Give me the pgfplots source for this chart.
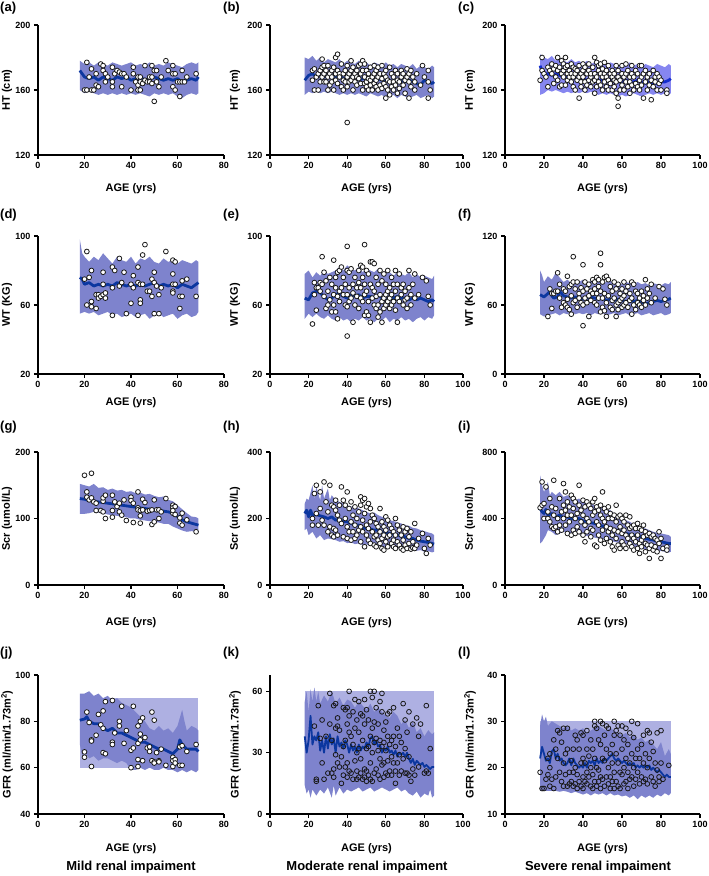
\documentclass[border=0pt]{standalone}
\usepackage{fontspec}
\setmainfont{Liberation Sans}
\usepackage{pgfplots}
\pgfplotsset{compat=1.18}
\definecolor{bandc}{RGB}{126,131,205}
\definecolor{bandv}{RGB}{134,134,240}
\definecolor{rectc}{RGB}{174,176,226}
\definecolor{medc}{RGB}{12,55,160}
\definecolor{medv}{RGB}{20,45,205}
\pgfplotsset{
 panel/.style={scale only axis, anchor=south west, axis lines*=left,
  axis line style={line width=1.3pt, black},
  tick align=outside, major tick length=4pt, tick style={line width=1.3pt, black},
  /pgf/number format/assume math mode=true,
  tick label style={font=\bfseries\fontsize{9}{10}\selectfont},
  label style={font=\bfseries\fontsize{11}{13}\selectfont},
  xlabel={AGE (yrs)},
  xlabel style={at={(axis description cs:0.5,0)}, anchor=center},
  ylabel style={at={(axis description cs:0,0.5)}, anchor=center},
  xmin=0, minor tick num=0},
 c1/.style={panel, xmax=80, xtick={0,20,40,60,80}, width=186pt, ylabel style={yshift=31pt}},
 c2/.style={panel, xmax=100, xtick={0,20,40,60,80,100}, width=193pt, ylabel style={yshift=35pt}},
 c3/.style={panel, xmax=100, xtick={0,20,40,60,80,100}, width=195pt, ylabel style={yshift=35pt}},
 r1/.style={height=130pt, xlabel style={yshift=-34pt}},
 r2/.style={height=138pt, xlabel style={yshift=-29pt}},
 r3/.style={height=133pt, xlabel style={yshift=-38pt}},
 r4/.style={height=139pt, xlabel style={yshift=-35pt}},
 pts/.style={only marks, mark=*, mark size=2.4pt, mark options={fill=white, draw=black!90, line width=0.8pt}},
 ptso/.style={only marks, mark=o, mark size=2.4pt, mark options={draw=black!90, line width=0.8pt}},
 med/.style={color=medc, line width=2.8pt, line join=round},
}
\begin{document}
\begin{tikzpicture}
\useasboundingbox (0pt,0pt) rectangle (709pt,876pt);
% ---------------- (a)
\begin{axis}[c1, r1, at={(38pt,721pt)}, ymin=120, ymax=200, ytick={120,160,200}, ylabel={HT (cm)}]
\addplot[fill=bandc, draw=none] coordinates {(18,178)(20,176)(22,177)(24,175)(26,177)(28,176)(30,175)(32,177)(34,176)(36,175)(38,176)(40,177)(42,175)(44,176)(46,175)(48,177)(50,175)(52,176)(54,175)(56,177)(58,176)(60,175)(62,174)(64,176)(66,177)(68,176)(69,177)(69,158)(68,157)(66,158)(64,157)(62,155)(60,156)(58,158)(56,157)(54,158)(52,157)(50,158)(48,156)(46,157)(44,158)(42,157)(40,158)(38,157)(36,158)(34,157)(32,158)(30,157)(28,158)(26,157)(24,158)(22,159)(20,158)(18,160)};
\addplot[med] coordinates {(18,172)(19,170)(20,168)(22,167)(24,168)(26,166)(28,168)(30,167)(32,166)(34,168)(36,167)(38,168)(40,166)(42,167)(44,168)(46,166)(48,167)(50,168)(52,167)(54,166)(56,167)(58,166)(60,167)(62,165)(64,166)(66,167)(68,166)(69,168)};
\addplot[pts] coordinates {(20,160)(21,160)(21,177)(22,168)(23,173)(23,160)(24,160)(25,163)(25,170)(26,162)(27,176)(28,175)(28,172)(29,170)(29,165)(30,168)(32,165)(32,162)(32,174)(33,170)(34,172)(35,171)(36,170)(36,162)(37,170)(38,168)(40,160)(41,174)(41,170)(42,165)(43,168)(43,163)(43,160)(44,160)(44,168)(44,165)(45,164)(46,175)(46,166)(47,165)(48,165)(48,168)(49,175)(49,168)(49,164)(50,172)(50,153)(51,165)(51,172)(52,162)(53,168)(55,178)(56,172)(58,175)(58,170)(58,162)(59,170)(59,160)(60,165)(61,156)(61,165)(62,172)(62,165)(63,165)(64,168)(68,170)};
\end{axis}
% ---------------- (b)
\begin{axis}[c2, r1, at={(270pt,721pt)}, ymin=120, ymax=200, ytick={120,160,200}, ylabel={HT (cm)}]
\addplot[fill=bandc, draw=none] coordinates {(18,180)(20,179)(22,181)(24,178)(26,180)(28,177)(30,179)(32,178)(34,177)(36,179)(38,176)(40,178)(42,177)(44,176)(46,178)(48,176)(50,177)(52,175)(54,177)(56,176)(58,175)(60,177)(62,175)(64,176)(66,174)(68,176)(70,175)(72,174)(74,176)(76,173)(78,175)(80,174)(82,173)(84,175)(85,174)(85,156)(84,155)(82,157)(80,156)(78,155)(76,157)(74,156)(72,155)(70,156)(68,157)(66,155)(64,157)(62,156)(60,155)(58,157)(56,156)(54,157)(52,158)(50,156)(48,157)(46,158)(44,157)(42,158)(40,157)(38,158)(36,157)(34,158)(32,159)(30,158)(28,159)(26,158)(24,159)(22,158)(20,159)(18,157)};
\addplot[med] coordinates {(18,166)(20,169)(22,170)(24,168)(26,169)(28,168)(30,169)(32,168)(34,168)(36,169)(38,167)(40,168)(42,167)(44,168)(46,166)(48,167)(50,167)(52,166)(54,166)(56,167)(58,166)(60,166)(62,165)(64,166)(66,165)(68,166)(70,165)(72,166)(74,165)(76,164)(78,163)(80,166)(82,165)(84,164)(85,165)};
\addplot[pts] coordinates {(22,172)(22,166)(23,160)(23,173)(24,168)(25,160)(25,170)(26,165)(26,172)(27,179)(27,174)(27,168)(28,165)(28,170)(28,175)(29,172)(29,165)(30,168)(30,160)(30,175)(31,163)(31,170)(32,165)(32,172)(32,168)(33,174)(33,160)(34,180)(34,166)(34,170)(35,182)(35,172)(35,164)(36,170)(36,168)(37,176)(37,162)(38,160)(38,170)(38,166)(39,172)(39,165)(40,140)(40,175)(40,168)(40,162)(41,170)(41,165)(42,178)(42,172)(42,166)(43,168)(43,160)(43,174)(44,165)(44,170)(45,172)(45,163)(45,168)(46,175)(46,167)(47,176)(47,170)(47,164)(48,178)(48,172)(48,160)(49,168)(49,164)(49,176)(50,172)(50,165)(50,162)(51,170)(51,160)(51,167)(52,174)(52,166)(52,163)(53,168)(53,160)(54,175)(54,170)(54,164)(55,172)(55,166)(55,162)(56,174)(56,168)(56,160)(57,170)(57,163)(58,175)(58,167)(58,161)(59,170)(59,164)(60,155)(60,168)(60,172)(60,162)(61,166)(61,160)(62,174)(62,165)(62,157)(63,170)(63,162)(64,168)(64,165)(64,160)(65,172)(65,163)(66,170)(66,166)(66,158)(67,165)(67,161)(68,172)(68,168)(69,170)(69,163)(70,166)(70,158)(71,173)(71,168)(72,155)(72,170)(72,165)(73,172)(73,162)(74,168)(75,165)(75,160)(76,170)(78,163)(79,175)(80,168)(82,172)(82,165)(82,155)(83,160)};
\end{axis}
% ---------------- (c)
\begin{axis}[c3, r1, at={(505pt,721pt)}, ymin=120, ymax=200, ytick={120,160,200}, ylabel={HT (cm)}]
\addplot[fill=bandv, draw=none] coordinates {(18,182)(20,180)(22,179)(24,181)(26,178)(28,180)(30,178)(32,177)(34,179)(36,177)(38,178)(40,176)(42,178)(44,176)(46,177)(48,176)(50,177)(52,175)(54,177)(56,176)(58,175)(60,176)(62,175)(64,177)(66,175)(68,176)(70,174)(72,176)(74,175)(76,174)(78,176)(80,175)(82,174)(84,176)(85,175)(85,158)(84,157)(82,158)(80,157)(78,158)(76,157)(74,158)(72,157)(70,156)(68,157)(66,158)(64,157)(62,156)(60,157)(58,156)(56,157)(54,158)(52,157)(50,158)(48,157)(46,158)(44,159)(42,158)(40,159)(38,158)(36,159)(34,158)(32,159)(30,158)(28,159)(26,160)(24,159)(22,160)(20,158)(18,157)};
\addplot[med, color=medv] coordinates {(18,175)(19,171)(20,170)(22,170)(24,169)(26,170)(28,169)(30,168)(32,168)(34,168)(36,167)(38,167)(40,167)(42,166)(44,167)(46,166)(48,166)(50,166)(52,166)(54,166)(56,165)(58,165)(60,165)(62,166)(64,165)(66,165)(68,166)(70,165)(72,164)(74,165)(76,164)(78,164)(80,165)(82,165)(84,166)(85,167)};
\addplot[pts] coordinates {(18,166)(19,180)(19,172)(20,170)(21,168)(22,162)(22,174)(23,172)(24,176)(24,170)(25,164)(25,173)(26,175)(26,168)(27,180)(27,172)(27,166)(28,174)(28,162)(29,178)(29,170)(29,163)(30,176)(30,168)(30,172)(31,180)(31,174)(31,163)(32,170)(32,175)(32,166)(33,172)(33,168)(34,176)(34,165)(34,170)(35,174)(35,168)(35,162)(36,160)(36,170)(36,173)(37,166)(37,172)(38,155)(38,168)(38,175)(39,170)(39,165)(39,162)(40,176)(40,168)(40,172)(41,174)(41,165)(41,160)(42,170)(42,163)(43,172)(43,166)(43,176)(44,168)(44,162)(44,170)(45,174)(45,165)(46,180)(46,170)(46,158)(46,166)(47,177)(47,168)(47,162)(48,172)(48,165)(48,175)(49,170)(49,163)(49,176)(50,168)(50,160)(50,173)(51,177)(51,165)(51,170)(52,172)(52,162)(52,168)(53,175)(53,166)(53,160)(54,170)(54,164)(55,172)(55,168)(55,160)(56,166)(56,162)(56,170)(57,175)(57,158)(57,165)(58,150)(58,155)(58,168)(58,172)(59,166)(59,160)(60,170)(60,163)(60,175)(61,168)(61,160)(62,176)(62,165)(62,170)(63,172)(63,162)(64,168)(64,158)(64,165)(65,170)(65,163)(65,175)(66,160)(66,168)(67,172)(67,164)(68,170)(68,162)(69,175)(69,166)(69,160)(70,175)(70,168)(70,163)(71,155)(71,170)(72,172)(72,165)(73,168)(73,160)(74,170)(74,163)(75,154)(75,166)(76,172)(76,162)(77,168)(77,165)(78,170)(78,160)(79,168)(79,164)(80,166)(80,160)(83,160)(83,158)};
\end{axis}
% ---------------- (d)
\begin{axis}[c1, r2, at={(38pt,502pt)}, ymin=20, ymax=100, ytick={20,60,100}, ylabel={WT (KG)}]
\addplot[fill=bandc, draw=none] coordinates {(18,98)(19,90)(20,88)(22,85)(24,88)(26,86)(28,90)(30,87)(32,84)(34,88)(36,86)(38,85)(40,88)(42,84)(44,87)(46,86)(48,88)(50,85)(52,84)(54,87)(56,85)(58,86)(60,84)(62,86)(64,85)(66,84)(68,86)(69,85)(69,56)(68,54)(66,53)(64,55)(62,54)(60,52)(58,55)(56,54)(54,53)(52,55)(50,54)(48,52)(46,55)(44,54)(42,53)(40,55)(38,54)(36,53)(34,55)(32,54)(30,56)(28,55)(26,54)(24,56)(22,55)(20,56)(18,55)};
\addplot[med] coordinates {(18,76)(19,75)(20,72)(22,73)(24,71)(26,72)(28,71)(30,72)(32,71)(34,73)(36,72)(38,71)(40,72)(42,71)(44,72)(46,71)(48,72)(50,73)(52,71)(54,72)(56,71)(58,72)(60,70)(62,72)(64,71)(66,70)(68,72)(69,73)};
\addplot[pts] coordinates {(20,75)(21,91)(21,60)(22,76)(23,80)(23,62)(23,59)(25,66)(25,58)(26,66)(26,64)(27,65)(28,79)(28,72)(28,66)(29,64)(29,67)(32,82)(32,54)(32,70)(33,80)(35,87)(35,71)(36,73)(37,79)(38,55)(40,72)(40,61)(41,77)(41,70)(43,82)(43,73)(43,54)(44,72)(44,63)(44,61)(45,89)(45,72)(46,95)(47,68)(48,68)(49,75)(49,65)(50,79)(50,73)(50,55)(51,71)(52,66)(52,55)(53,70)(55,91)(58,86)(58,78)(58,72)(58,68)(58,67)(59,85)(59,72)(61,58)(61,65)(62,74)(62,65)(64,75)(68,65)};
\end{axis}
% ---------------- (e)
\begin{axis}[c2, r2, at={(270pt,502pt)}, ymin=20, ymax=100, ytick={20,60,100}, ylabel={WT (KG)}]
\addplot[fill=bandc, draw=none] coordinates {(18,78)(20,80)(22,76)(24,79)(26,77)(28,80)(30,78)(32,79)(34,80)(36,82)(38,80)(40,83)(42,81)(44,80)(46,82)(48,79)(50,81)(52,80)(54,79)(56,81)(58,78)(60,80)(62,79)(64,77)(66,79)(68,78)(70,77)(72,79)(74,76)(76,78)(78,76)(80,77)(82,76)(84,75)(85,77)(85,54)(84,52)(82,53)(80,51)(78,53)(76,52)(74,50)(72,52)(70,51)(68,53)(66,51)(64,52)(62,50)(60,53)(58,51)(56,52)(54,50)(52,52)(50,51)(48,53)(46,51)(44,52)(42,50)(40,52)(38,51)(36,53)(34,51)(32,52)(30,54)(28,52)(26,53)(24,55)(22,53)(20,55)(18,52)};
\addplot[med] coordinates {(18,64)(20,63)(22,67)(24,68)(26,67)(28,65)(30,63)(32,64)(34,66)(36,67)(38,65)(40,64)(42,66)(44,65)(46,66)(48,64)(50,65)(52,65)(54,64)(56,66)(58,64)(60,63)(62,65)(64,64)(66,65)(68,64)(70,64)(72,63)(74,64)(76,63)(78,64)(80,63)(82,62)(84,63)(85,62)};
\addplot[pts] coordinates {(22,49)(23,73)(23,66)(24,57)(24,70)(25,70)(26,68)(26,73)(27,88)(27,72)(28,79)(28,65)(29,58)(29,74)(30,60)(30,68)(31,76)(31,63)(32,72)(32,56)(33,86)(33,66)(33,60)(34,76)(34,56)(34,70)(35,52)(35,79)(35,65)(36,80)(36,68)(36,62)(37,82)(37,70)(38,76)(38,66)(39,72)(39,60)(40,94)(40,42)(40,80)(40,66)(40,59)(41,79)(41,62)(41,70)(42,81)(42,64)(43,50)(43,72)(43,67)(44,76)(44,60)(45,70)(45,65)(46,80)(46,73)(46,58)(47,83)(47,70)(47,64)(48,82)(48,76)(48,62)(49,95)(49,72)(49,66)(49,54)(50,80)(50,68)(50,56)(51,78)(51,62)(51,54)(52,85)(52,72)(52,50)(53,85)(53,70)(53,64)(54,84)(54,60)(54,68)(55,76)(55,58)(55,65)(56,72)(56,60)(56,53)(57,80)(57,66)(57,56)(58,74)(58,62)(58,50)(59,78)(59,64)(59,58)(60,72)(60,60)(60,66)(61,80)(61,62)(61,68)(62,70)(62,58)(62,64)(63,76)(63,66)(63,60)(64,72)(64,62)(65,80)(65,68)(65,57)(66,50)(66,72)(66,64)(67,78)(67,62)(68,70)(68,66)(69,72)(69,60)(70,68)(70,63)(71,64)(71,58)(72,80)(72,70)(73,66)(73,60)(74,72)(75,78)(75,64)(77,66)(79,76)(81,74)(82,65)(83,60)};
\end{axis}
% ---------------- (f)
\begin{axis}[c3, r2, at={(505pt,502pt)}, ymin=0, ymax=120, ytick={0,60,120}, ylabel={WT (KG)}]
\addplot[fill=bandc, draw=none] coordinates {(18,90)(19,86)(20,80)(22,85)(24,82)(26,88)(28,84)(30,80)(32,82)(34,79)(36,81)(38,80)(40,82)(42,79)(44,81)(46,80)(48,82)(50,79)(52,80)(54,81)(56,79)(58,80)(60,78)(62,80)(64,79)(66,78)(68,80)(70,78)(72,79)(74,77)(76,79)(78,78)(80,77)(82,79)(84,78)(85,80)(85,53)(84,52)(82,51)(80,53)(78,52)(76,51)(74,53)(72,52)(70,51)(68,53)(66,52)(64,51)(62,53)(60,52)(58,51)(56,53)(54,52)(52,51)(50,53)(48,52)(46,53)(44,51)(42,53)(40,52)(38,53)(36,52)(34,54)(32,52)(30,53)(28,51)(26,53)(24,52)(22,51)(20,50)(18,52)};
\addplot[med] coordinates {(18,69)(20,67)(22,70)(23,72)(24,68)(25,66)(27,67)(28,72)(30,68)(32,67)(34,66)(36,67)(38,66)(40,65)(42,66)(44,67)(46,66)(48,65)(50,66)(52,64)(54,65)(56,64)(58,65)(60,64)(62,63)(64,64)(66,63)(68,64)(70,63)(72,61)(74,62)(76,63)(78,64)(80,63)(82,64)(84,65)(85,66)};
\addplot[pts] coordinates {(22,50)(23,74)(24,57)(24,70)(25,70)(26,72)(27,88)(27,72)(28,78)(28,66)(29,58)(30,74)(30,62)(31,72)(31,60)(32,85)(32,65)(32,58)(33,76)(33,56)(34,78)(34,52)(34,68)(35,102)(35,80)(35,62)(36,74)(36,64)(37,80)(37,58)(38,70)(38,66)(39,75)(39,62)(40,95)(40,42)(40,72)(40,60)(41,80)(41,66)(42,74)(42,62)(43,50)(43,78)(43,68)(44,72)(44,64)(45,82)(45,70)(46,80)(46,74)(46,62)(47,84)(47,70)(47,60)(48,82)(48,76)(48,66)(49,105)(49,95)(49,72)(49,54)(50,80)(50,66)(50,58)(51,84)(51,70)(51,55)(52,85)(52,62)(52,50)(53,82)(53,68)(54,76)(54,58)(55,72)(55,64)(55,56)(56,80)(56,66)(57,74)(57,60)(57,50)(58,78)(58,62)(58,56)(59,70)(59,64)(60,74)(60,58)(60,66)(61,80)(61,68)(61,60)(62,72)(62,62)(63,76)(63,58)(64,70)(64,64)(65,80)(65,66)(65,52)(66,78)(66,60)(67,72)(67,56)(68,70)(68,62)(69,66)(69,60)(70,72)(70,58)(71,68)(71,64)(72,82)(72,60)(73,74)(73,66)(74,70)(75,78)(75,62)(77,66)(79,76)(81,74)(82,65)(83,60)};
\end{axis}
% ---------------- (g)
\begin{axis}[c1, r3, at={(38pt,291pt)}, ymin=0, ymax=200, ytick={0,100,200}, ylabel={Scr (umol/L)}]
\addplot[fill=bandc, draw=none] coordinates {(18,152)(20,150)(22,148)(24,152)(26,146)(28,147)(30,143)(32,145)(34,142)(36,143)(38,140)(40,141)(42,138)(44,139)(46,136)(48,137)(50,134)(52,132)(54,133)(56,128)(58,126)(60,120)(62,114)(64,108)(66,103)(68,102)(69,100)(69,82)(68,80)(66,81)(64,80)(62,82)(60,85)(58,88)(56,92)(54,92)(52,94)(50,95)(48,96)(46,97)(44,98)(42,100)(40,100)(38,102)(36,103)(34,104)(32,105)(30,106)(28,108)(26,109)(24,110)(22,108)(20,107)(18,107)};
\addplot[med] coordinates {(18,130)(20,129)(22,127)(24,126)(26,125)(28,124)(30,123)(32,122)(34,121)(36,120)(38,119)(40,118)(42,117)(44,116)(46,115)(48,114)(50,113)(52,112)(54,111)(56,110)(58,108)(60,103)(62,98)(64,95)(66,93)(68,91)(69,90)};
\addplot[pts] coordinates {(20,165)(21,140)(21,132)(22,128)(23,168)(23,131)(24,125)(25,112)(25,123)(27,112)(28,110)(28,126)(28,131)(29,135)(29,100)(32,135)(32,112)(32,102)(33,125)(34,118)(35,110)(35,123)(36,105)(37,128)(38,97)(40,132)(40,127)(41,123)(41,94)(43,140)(43,116)(43,113)(44,104)(44,112)(44,93)(45,129)(45,113)(46,124)(47,111)(48,112)(49,113)(49,91)(50,128)(50,95)(51,113)(52,100)(52,113)(53,110)(55,130)(58,120)(58,116)(58,108)(58,112)(59,118)(59,106)(61,101)(61,93)(62,108)(62,90)(64,98)(68,80)};
\end{axis}
% ---------------- (h)
\begin{axis}[c2, r3, at={(270pt,291pt)}, ymin=0, ymax=400, ytick={0,200,400}, ylabel={Scr (umol/L)}]
\addplot[fill=bandc, draw=none] coordinates {(18,245)(19,260)(20,255)(22,300)(23,260)(24,295)(26,255)(27,300)(28,260)(30,290)(31,255)(32,270)(34,255)(36,250)(38,245)(40,240)(42,235)(44,240)(46,230)(48,225)(50,220)(52,215)(54,218)(56,210)(58,205)(60,200)(62,195)(64,192)(66,188)(68,185)(70,180)(72,178)(74,172)(76,170)(78,165)(80,162)(82,158)(84,155)(85,150)(85,100)(84,98)(82,102)(80,100)(78,105)(76,103)(74,108)(72,106)(70,110)(68,108)(66,112)(64,110)(62,115)(60,113)(58,118)(56,116)(54,120)(52,118)(50,122)(48,120)(46,125)(44,123)(42,128)(40,126)(38,132)(36,130)(34,135)(32,138)(30,140)(28,135)(26,150)(24,140)(22,160)(20,150)(19,170)(18,165)};
\addplot[med] coordinates {(18,215)(19,225)(20,205)(21,225)(22,210)(24,212)(26,208)(28,205)(30,200)(32,205)(34,195)(36,198)(38,190)(40,190)(42,185)(44,180)(46,180)(48,172)(50,170)(52,168)(54,165)(56,165)(58,160)(60,158)(62,155)(64,152)(66,150)(68,148)(70,145)(72,140)(74,140)(76,135)(78,132)(80,130)(82,128)(84,125)(85,123)};
\addplot[pts] coordinates {(22,180)(22,200)(23,275)(24,300)(24,215)(25,180)(26,230)(26,280)(27,195)(28,310)(28,180)(29,250)(30,220)(30,160)(31,300)(31,175)(32,240)(32,150)(33,235)(33,170)(33,145)(34,255)(34,225)(34,165)(35,210)(35,150)(36,195)(36,240)(37,295)(37,185)(38,255)(38,145)(39,240)(39,200)(40,280)(40,175)(40,140)(41,230)(41,160)(42,250)(42,190)(42,135)(43,210)(43,160)(44,235)(44,180)(44,140)(45,200)(45,150)(46,220)(46,165)(47,265)(47,240)(47,175)(47,130)(48,255)(48,195)(48,160)(49,260)(49,215)(49,115)(50,235)(50,180)(50,150)(51,245)(51,170)(51,135)(52,230)(52,190)(52,125)(53,210)(53,160)(54,200)(54,145)(54,120)(55,185)(55,150)(55,115)(56,175)(56,135)(57,230)(57,160)(57,125)(58,190)(58,140)(58,110)(59,175)(59,150)(59,105)(60,205)(60,165)(60,130)(61,195)(61,145)(61,115)(62,180)(62,150)(63,170)(63,125)(64,160)(64,135)(64,115)(65,200)(65,150)(65,110)(66,180)(66,130)(67,165)(67,120)(68,150)(68,110)(69,175)(69,135)(69,105)(70,160)(70,120)(71,170)(71,110)(72,145)(72,125)(73,160)(73,108)(74,130)(74,112)(75,185)(75,110)(76,120)(77,140)(79,155)(80,110)(81,95)(82,140)(83,120)};
\end{axis}
% ---------------- (i)
\begin{axis}[c3, r3, at={(505pt,291pt)}, ymin=0, ymax=800, ytick={0,400,800}, ylabel={Scr (umol/L)}]
\addplot[fill=bandc, draw=none] coordinates {(18,660)(19,600)(20,560)(22,620)(23,540)(24,560)(26,540)(28,560)(30,530)(32,540)(34,520)(36,510)(38,520)(40,500)(42,495)(44,490)(46,480)(48,475)(50,465)(52,455)(54,450)(56,430)(58,420)(60,405)(62,390)(64,380)(66,365)(68,355)(70,345)(72,340)(74,330)(76,320)(78,315)(80,310)(82,305)(84,300)(85,290)(85,200)(84,195)(82,200)(80,205)(78,200)(76,210)(74,210)(72,215)(70,220)(68,225)(66,230)(64,240)(62,245)(60,250)(58,255)(56,260)(54,265)(52,270)(50,275)(48,280)(46,285)(44,290)(42,295)(40,300)(38,305)(36,310)(34,310)(32,315)(30,320)(28,310)(26,300)(24,320)(22,330)(21,300)(20,280)(19,260)(18,250)};
\addplot[med] coordinates {(18,460)(19,440)(20,430)(21,455)(22,420)(24,430)(26,410)(28,420)(30,405)(32,410)(34,400)(36,395)(38,400)(40,385)(42,380)(44,375)(46,370)(48,360)(50,355)(52,345)(54,340)(56,330)(58,325)(60,320)(62,310)(64,305)(66,300)(68,295)(70,290)(72,280)(74,275)(76,270)(78,265)(80,260)(82,255)(84,250)(85,250)};
\addplot[pts] coordinates {(18,465)(19,620)(19,480)(20,490)(20,400)(21,590)(22,440)(22,400)(23,520)(23,380)(24,470)(24,350)(25,630)(25,420)(25,340)(26,460)(26,350)(27,400)(27,320)(28,520)(28,360)(29,440)(29,330)(30,610)(30,480)(30,400)(31,560)(31,450)(31,360)(32,500)(32,420)(32,310)(33,470)(33,380)(34,540)(34,420)(34,300)(35,520)(35,460)(35,330)(36,500)(36,400)(36,310)(37,430)(37,350)(38,600)(38,480)(38,320)(39,450)(39,380)(40,510)(40,420)(40,300)(41,470)(41,360)(41,260)(42,500)(42,400)(42,320)(43,480)(43,380)(44,460)(44,340)(44,290)(45,500)(45,420)(45,330)(46,520)(46,440)(46,240)(47,470)(47,380)(47,230)(48,450)(48,360)(48,300)(49,480)(49,420)(49,270)(50,560)(50,400)(50,330)(51,460)(51,380)(51,250)(52,440)(52,350)(52,280)(53,470)(53,400)(53,320)(54,430)(54,340)(54,260)(55,400)(55,300)(55,230)(56,420)(56,330)(56,210)(57,480)(57,380)(57,280)(58,410)(58,320)(58,240)(59,420)(59,350)(59,220)(60,400)(60,310)(60,260)(61,380)(61,330)(61,240)(62,420)(62,300)(62,220)(63,360)(63,280)(64,410)(64,340)(64,250)(65,350)(65,300)(65,230)(66,360)(66,280)(66,210)(67,340)(67,260)(68,370)(68,300)(68,220)(69,340)(69,250)(69,190)(70,330)(70,270)(70,230)(71,360)(71,290)(72,320)(72,250)(72,200)(73,300)(73,240)(74,310)(74,220)(74,160)(75,290)(75,240)(76,300)(76,210)(77,280)(77,230)(78,270)(78,200)(79,320)(79,250)(80,280)(80,160)(81,220)(83,230)(83,210)};
\end{axis}
% ---------------- (j)
\begin{axis}[c1, r4, at={(38pt,62pt)}, ymin=40, ymax=100, ytick={40,60,80,100}, ylabel={GFR (ml/min/1.73m\textsuperscript{2})}]
\addplot[fill=rectc, draw=none] coordinates {(18,60)(69,60)(69,90)(18,90)};
\addplot[fill=bandc, draw=none] coordinates {(18,92)(20,92)(22,93)(24,91)(26,92)(28,90)(30,91)(32,89)(34,90)(36,88)(38,87)(40,86)(42,84)(44,82)(46,80)(48,77)(50,76)(52,78)(54,76)(56,77)(58,75)(60,78)(62,85)(63,80)(64,76)(66,78)(68,77)(69,76)(69,59)(68,58)(66,59)(64,58)(62,59)(60,58)(58,59)(56,59)(54,60)(52,59)(50,59)(48,60)(46,59)(44,60)(42,59)(40,59)(38,62)(36,63)(34,62)(32,63)(30,64)(28,64)(26,63)(24,65)(22,64)(20,67)(19,65)(18,70)};
\addplot[med] coordinates {(18,80.5)(20,81)(21,82)(22,80)(24,79)(26,79)(28,77)(30,76)(32,77)(34,75)(36,75)(38,74)(40,73)(42,72)(44,71)(46,71)(48,70)(50,69)(52,68)(54,68)(56,67)(58,66)(60,68)(61,72)(62,70)(64,68)(66,68)(68,68)(69,67)};
\addplot[pts] coordinates {(20,64.5)(20,66.8)(21,84)(22,79.5)(23,72)(23,71.5)(23,60.5)(25,74)(26,83)(27,78.5)(28,84.5)(28,77)(28,66.5)(29,88.5)(29,66)(32,89)(32,71)(32,70)(33,75)(35,80)(35,78)(36,86.5)(37,70.5)(38,76)(40,67.5)(40,60)(41,86.5)(41,68.5)(43,78)(43,70.5)(43,63.5)(43,60.5)(44,80)(44,74.5)(44,72)(45,81.5)(45,63)(46,73)(47,68.5)(48,67)(48,69)(49,84)(49,63)(50,80.5)(50,62.5)(50,62)(51,66.5)(52,63)(52,62.5)(53,68)(55,61)(58,64.5)(58,63)(58,60.5)(59,63.5)(59,62)(61,61)(61,69)(62,69.5)(62,61)(64,67)(68,70)};
\end{axis}
% ---------------- (k)
\begin{axis}[c2, r4, at={(270pt,62pt)}, ymin=0, ymax=68, ytick={0,30,60}, ylabel={GFR (ml/min/1.73m\textsuperscript{2})}]
\addplot[fill=rectc, draw=none] coordinates {(18,15)(85,15)(85,60)(18,60)};
\addplot[fill=bandc, draw=none] coordinates {(18,55)(19,60)(20,50)(21,61)(22,55)(23,62)(24,55)(25,60)(26,54)(28,58)(30,55)(32,60)(34,54)(36,57)(38,53)(40,56)(42,55)(44,52)(46,55)(48,53)(50,51)(52,54)(54,50)(56,52)(58,50)(60,48)(62,47)(64,50)(66,48)(68,44)(70,46)(72,42)(74,45)(76,40)(78,42)(80,38)(82,41)(84,39)(85,40)(85,9)(84,8)(83,12)(82,9)(80,10)(78,8)(76,11)(74,9)(72,10)(70,12)(68,11)(66,13)(64,12)(62,11)(60,12)(58,13)(56,12)(54,11)(52,13)(50,12)(48,11)(46,13)(44,12)(42,11)(40,12)(38,10)(36,13)(34,9)(33,14)(32,8)(30,13)(28,10)(26,12)(24,9)(22,12)(21,8)(20,12)(19,10)(18,14)};
\addplot[med, line width=1.8pt] coordinates {(18,38)(19,30)(20,36)(21,48)(22,34)(23,38)(24,36)(25,40)(26,31)(27,36)(28,30)(29,38)(30,32)(31,39)(32,34)(33,37)(34,30)(35,38)(36,33)(37,35)(38,32)(39,36)(40,34)(41,30)(42,34)(43,31)(44,33)(45,30)(46,34)(47,31)(48,33)(49,32)(50,35)(51,33)(52,37)(53,38)(54,34)(55,36)(56,33)(57,34)(58,30)(59,32)(60,31)(61,33)(62,30)(63,31)(64,29)(65,31)(66,28)(67,30)(68,29)(69,30)(70,28)(71,30)(72,27)(73,25)(74,27)(75,24)(76,26)(77,25)(78,24)(79,25)(80,23)(81,24)(82,23)(83,22)(84,23)(85,23)};
\addplot[ptso] coordinates {(23,43)(24,17)(24,16)(25,53)(26,37)(27,46)(27,25)(28,17)(29,38)(30,20)(31,59)(31,44)(32,36)(32,20)(33,53)(33,22)(33,18)(34,54)(34,42)(34,29)(35,47)(35,43)(35,25)(36,41)(36,23)(37,28)(37,15)(38,52)(38,33)(38,19)(39,51)(39,36)(39,23)(40,52)(40,44)(40,25)(40,18)(41,60)(41,48)(41,40)(41,21)(42,38)(42,20)(43,50)(43,34)(43,17)(44,56)(44,42)(44,26)(45,46)(45,30)(45,21)(45,17)(46,55)(46,40)(46,32)(46,18)(47,49)(47,27)(47,20)(48,48)(48,36)(48,17)(49,56)(49,44)(49,22)(49,18)(50,51)(50,32)(50,21)(50,16)(51,46)(51,33)(51,19)(52,60)(52,38)(52,25)(52,17)(53,57)(53,42)(53,30)(53,16)(54,60)(54,45)(54,35)(54,20)(55,52)(55,37)(55,22)(56,44)(56,31)(56,19)(57,55)(57,36)(57,27)(57,17)(58,59)(58,50)(58,33)(58,24)(59,41)(59,35)(59,25)(59,18)(60,45)(60,31)(60,20)(61,49)(61,38)(61,26)(61,19)(62,50)(62,34)(62,21)(63,36)(63,28)(63,19)(64,52)(64,38)(64,25)(65,33)(65,21)(65,15)(66,42)(66,25)(67,38)(67,29)(67,19)(68,35)(68,21)(69,54)(69,27)(70,46)(70,32)(70,20)(71,40)(71,20)(72,50)(72,28)(72,19)(73,16)(74,44)(74,22)(75,19)(76,47)(77,38)(77,23)(78,44)(80,20)(81,53)(81,21)(82,20)(83,32)};
\end{axis}
% ---------------- (l)
\begin{axis}[c3, r4, at={(505pt,62pt)}, ymin=10, ymax=40, ytick={10,20,30,40}, ylabel={GFR (ml/min/1.73m\textsuperscript{2})}]
\addplot[fill=rectc, draw=none] coordinates {(18,15)(85,15)(85,30)(18,30)};
\addplot[fill=bandc, draw=none] coordinates {(18,29)(19,31.5)(20,30)(21,31)(22,29)(24,30)(26,29.5)(28,29)(30,28.5)(32,29)(34,28)(36,28.5)(38,28)(40,28.5)(42,27.5)(44,28)(46,28.5)(48,29)(50,28.5)(52,28)(54,28.5)(56,28)(58,27.5)(60,27)(62,27.5)(64,26.5)(66,27)(68,26)(70,26.5)(72,25.5)(74,26)(76,25)(78,24)(80,25.5)(82,22.5)(84,24)(85,23)(85,14.5)(84,14)(82,14.5)(80,13.8)(78,14.2)(76,13.5)(74,14)(72,13.5)(70,14)(68,13.2)(66,14)(64,13.5)(62,14)(60,13.8)(58,14.2)(56,14)(54,14.5)(52,14)(50,14.5)(48,14.2)(46,14.5)(44,14)(42,14.5)(40,14.2)(38,14.5)(36,14.8)(34,14.5)(32,14.8)(30,15)(28,14.8)(26,15)(24,15)(22,15)(20,15)(18,15)};
\addplot[med, line width=1.8pt] coordinates {(18,22)(19,24.5)(20,23)(21,21.5)(22,22)(23,21)(24,23.5)(25,24)(26,22)(27,23)(28,21.5)(29,22)(30,21)(31,20.5)(32,21)(33,22)(34,20.5)(35,22)(36,21)(37,20.5)(38,20)(39,20.5)(40,20)(41,21)(42,20)(43,21.5)(44,21)(45,21.5)(46,20.5)(47,22)(48,21)(49,21.5)(50,21)(51,22)(52,21.5)(53,22)(54,22.5)(55,23)(56,22)(57,21.5)(58,22)(59,21.5)(60,21)(61,21.5)(62,21)(63,20.5)(64,21)(65,20.5)(66,21)(67,20)(68,20.5)(69,20)(70,20.5)(71,20)(72,20.5)(73,20)(74,20.5)(75,19.5)(76,20)(77,19.5)(78,19)(79,19.5)(80,19)(81,18.5)(82,18)(83,18.5)(84,18)(85,18)};
\addplot[ptso] coordinates {(18,19)(19,15.5)(20,15.5)(21,17.5)(22,18.5)(22,22)(23,23)(23,20)(23,16)(24,17.5)(25,26)(25,15.5)(26,24)(26,18)(27,28)(27,22)(28,27.5)(28,19)(29,25.5)(29,17)(30,28.5)(30,21)(30,16)(31,23)(31,18.5)(32,28.5)(32,24)(32,16)(33,19)(33,16.5)(34,21.5)(34,17)(35,24)(35,19)(35,16)(36,27)(36,20)(36,16.5)(37,26)(37,18.5)(37,15.5)(38,24)(38,17)(39,27.5)(39,21)(39,16)(40,27)(40,22)(40,18)(40,15.5)(41,21)(41,17)(42,28)(42,24)(42,19)(42,16.5)(43,22.5)(43,18)(44,26)(44,20)(44,16)(45,24)(45,18.5)(45,15.5)(46,30)(46,29)(46,22)(46,17)(47,28.5)(47,20)(47,16)(48,26)(48,19.5)(48,17)(49,30)(49,25)(49,18)(49,15.5)(50,29.5)(50,22)(50,17.5)(51,27)(51,21.5)(51,16)(52,29)(52,24)(52,18)(53,28.5)(53,20)(53,16.5)(54,23)(54,18)(54,15.5)(55,25)(55,21)(55,17)(56,30)(56,27)(56,19)(56,15.5)(57,28)(57,23)(57,17)(58,29)(58,21)(58,16)(59,27)(59,19)(59,15.5)(60,29)(60,24)(60,18.5)(61,26)(61,20)(61,16.5)(62,28.5)(62,22)(62,17)(63,25)(63,19)(63,15.5)(64,27.5)(64,21)(64,17.5)(65,30)(65,23)(65,18)(66,26.5)(66,20)(66,16)(67,22)(67,17.5)(68,29.5)(68,24)(68,19)(69,22)(69,16.5)(70,25)(70,18)(71,27)(71,21)(71,17)(72,23)(72,17.5)(73,28)(73,20)(73,16.5)(74,27.5)(74,22)(75,25.5)(75,18)(76,23.5)(76,17)(77,21)(77,16)(78,27.5)(78,19.5)(79,18)(79,17)(80,28)(80,21)(81,17.5)(84,20.5)};
\end{axis}
% ---------------- panel letters and group titles
\begin{scope}[every node/.style={font=\bfseries\fontsize{13}{15}\selectfont, inner sep=0pt}]
\node[anchor=west] at (0pt,868pt) {(a)};
\node[anchor=west] at (223pt,868pt) {(b)};
\node[anchor=west] at (458pt,868pt) {(c)};
\node[anchor=west] at (0pt,661pt) {(d)};
\node[anchor=west] at (223pt,661pt) {(e)};
\node[anchor=west] at (458pt,661pt) {(f)};
\node[anchor=west] at (0pt,449pt) {(g)};
\node[anchor=west] at (223pt,449pt) {(h)};
\node[anchor=west] at (458pt,449pt) {(i)};
\node[anchor=west] at (0pt,223pt) {(j)};
\node[anchor=west] at (223pt,223pt) {(k)};
\node[anchor=west] at (458pt,223pt) {(l)};
\node at (131pt,9pt) {Mild renal impaiment};
\node at (367pt,9pt) {Moderate renal impaiment};
\node at (598pt,9pt) {Severe renal impaiment};
\end{scope}
\end{tikzpicture}
\end{document}
